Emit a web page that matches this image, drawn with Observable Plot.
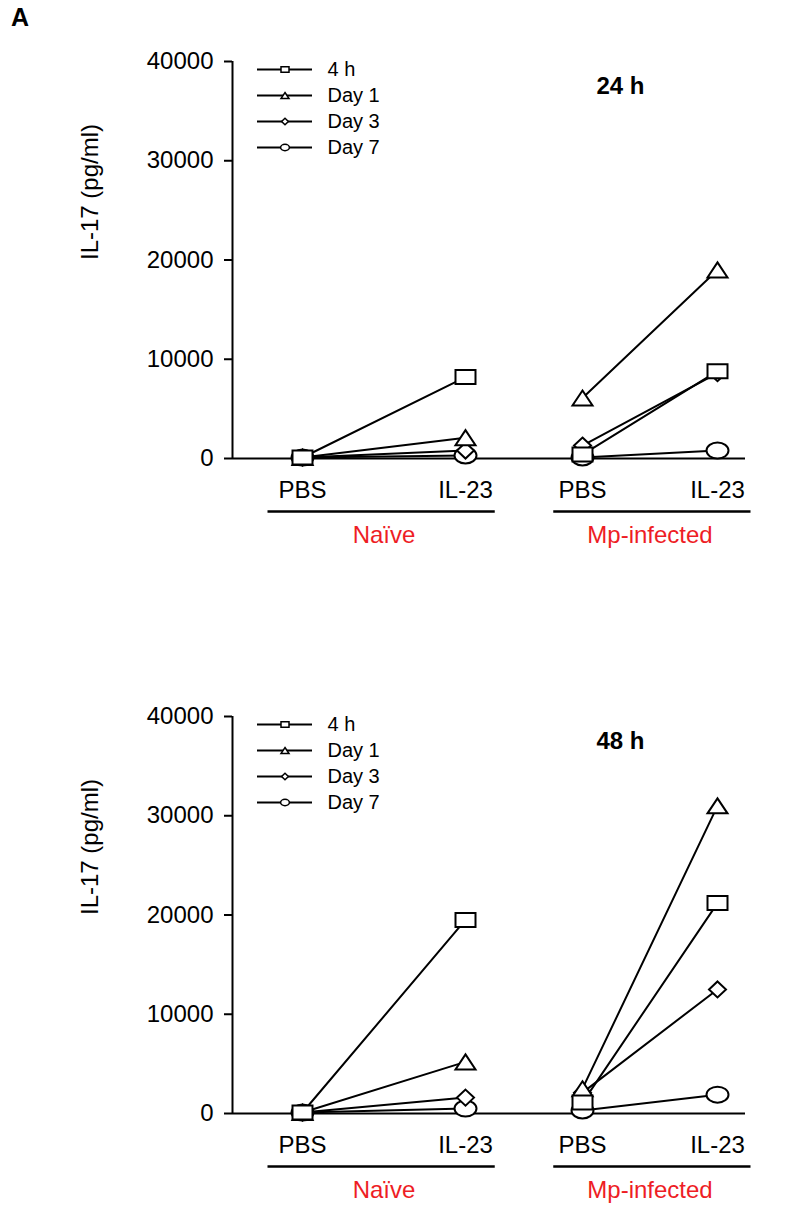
<!DOCTYPE html>
<html>
<head>
<meta charset="utf-8">
<script src="https://cdn.jsdelivr.net/npm/d3@7"></script>
<script src="https://cdn.jsdelivr.net/npm/@observablehq/plot@0.6"></script>
<style>
  html, body { margin: 0; padding: 0; background: #fff; }
  #root { position: relative; width: 800px; height: 1223px; font-family: "Liberation Sans", Arial, sans-serif; }
  .panel { position: relative; width: 800px; }
  .legend { position: absolute; left: 250px; top: 54px; }
  #letter { position: absolute; left: 11px; top: 3px; font-weight: bold; font-size: 25px; z-index: 2; }
</style>
</head>
<body>
<div id="root">
  <div id="letter">A</div>
</div>
<script>
// ---------- data ----------
const categories = ["PBS", "IL-23", "PBS", "IL-23"];
const groups = ["Naïve", "Mp-infected"];
const series = ["4 h", "Day 1", "Day 3", "Day 7"];
const yTicks = [0, 10000, 20000, 30000, 40000];
const panelTitles = ["24 h", "48 h"];
const yLabel = "IL-17 (pg/ml)";

// values per category (Naïve PBS, Naïve IL-23, Mp PBS, Mp IL-23)
const h24_4h   = [100, 8200, 400, 8800];
const h24_day1 = [100, 2100, 6100, 19000];
const h24_day3 = [100, 800, 1300, 8600];
const h24_day7 = [100, 300, 100, 800];

const h48_4h   = [100, 19500, 1100, 21200];
const h48_day1 = [100, 5200, 2500, 31000];
const h48_day3 = [100, 1600, 2100, 12500];
const h48_day7 = [100, 500, 300, 1900];

// ---------- helpers ----------
function makeSymbols(k) {
  const square = {draw(c) { c.rect(-10 * k, -7 * k, 20 * k, 14 * k); }};
  const triangle = {draw(c) { c.moveTo(0, -7.5 * k); c.lineTo(10 * k, 7.5 * k); c.lineTo(-10 * k, 7.5 * k); c.closePath(); }};
  const diamond = {draw(c) { c.moveTo(0, -8 * k); c.lineTo(8.5 * k, 0); c.lineTo(0, 8 * k); c.lineTo(-8.5 * k, 0); c.closePath(); }};
  const ellipse = {draw(c) {
    const rx = 11 * k, ry = 8 * k, q = 0.5523;
    c.moveTo(rx, 0);
    c.bezierCurveTo(rx, ry * q, rx * q, ry, 0, ry);
    c.bezierCurveTo(-rx * q, ry, -rx, ry * q, -rx, 0);
    c.bezierCurveTo(-rx, -ry * q, -rx * q, -ry, 0, -ry);
    c.bezierCurveTo(rx * q, -ry, rx, -ry * q, rx, 0);
    c.closePath();
  }};
  return {"4 h": square, "Day 1": triangle, "Day 3": diamond, "Day 7": ellipse};
}
const bigSymbols = makeSymbols(1);
const smallSymbols = makeSymbols(0.4);

const groupSpans = groups.map((g, gi) => ({name: g, from: gi * 2, to: gi * 2 + 1}));
const red = "#ee1d25";
const font = "Liberation Sans, Arial, sans-serif";

function buildRows(valueArrays) {
  const rows = [];
  series.forEach((s, si) => {
    valueArrays[si].forEach((v, i) => {
      rows.push({series: s, group: groups[Math.floor(i / 2)], idx: i, value: v});
    });
  });
  return rows;
}

function panel(valueArrays, title, height, marginBottom) {
  const rows = buildRows(valueArrays);
  const xDomain = [-0.5, 0, 1, 2, 3, 3.5];
  const drawOrder = ["Day 7", "Day 3", "Day 1", "4 h"];
  const marks = [
    Plot.ruleX([xDomain[0]], {strokeWidth: 2}),
    Plot.ruleY([0], {strokeWidth: 2}),
    Plot.axisY({ticks: yTicks, tickFormat: d => String(d), tickSize: 8, tickPadding: 11, fontSize: 24, strokeWidth: 2, label: null}),
    Plot.axisX({ticks: [0, 1, 2, 3], tickFormat: i => categories[i], tickSize: 0, tickPadding: 22, fontSize: 24, label: null}),
    Plot.text([yLabel], {frameAnchor: "left", rotate: -90, dx: -142, fontSize: 24}),
    Plot.text([title], {frameAnchor: "top-right", textAnchor: "middle", lineAnchor: "middle", dx: -125, dy: 25, fontSize: 24, fontWeight: "bold"}),
    Plot.link(groupSpans, {x1: d => d.from - 0.25, x2: d => d.to + 0.25, y1: () => 0, y2: () => 0, dy: 53, strokeWidth: 2.5}),
    Plot.text(groupSpans, {x: d => (d.from + d.to) / 2, y: () => 0, text: "name", dy: 77, fill: red, fontSize: 24}),
    Plot.line(rows, {x: "idx", y: "value", z: d => d.series + d.group, stroke: "black", strokeWidth: 2})
  ];
  drawOrder.forEach(s => {
    marks.push(Plot.dot(rows.filter(d => d.series === s), {x: "idx", y: "value", symbol: bigSymbols[s], r: 8, fill: "white", stroke: "black", strokeWidth: 2}));
  });
  return Plot.plot({
    width: 800,
    height,
    marginTop: 61,
    marginBottom,
    marginLeft: 232,
    marginRight: 55,
    style: {fontFamily: font, fontSize: "24px", background: "white", overflow: "visible"},
    x: {type: "linear", domain: xDomain, range: [232, 302, 465, 582, 717, 783]},
    y: {domain: [0, 40000]},
    marks
  });
}

function legend() {
  return Plot.plot({
    width: 200,
    height: 110,
    marginTop: 14,
    marginBottom: 16,
    marginLeft: 7,
    marginRight: 138,
    style: {fontFamily: font, fontSize: "20px", background: "transparent", overflow: "visible"},
    x: {domain: [0, 1], axis: null},
    y: {type: "point", domain: series, padding: 0, axis: null},
    marks: [
      Plot.ruleY(series, {y: d => d, x1: () => 0, x2: () => 1, strokeWidth: 2}),
      ...series.map(s => Plot.dot([s], {x: () => 0.5, y: d => d, symbol: smallSymbols[s], r: 3, fill: "white", stroke: "black", strokeWidth: 1.5})),
      Plot.text(series, {x: () => 1, y: d => d, dx: 15, textAnchor: "start", fontSize: 20})
    ]
  });
}

const root = document.getElementById("root");
const configs = [
  {values: [h24_4h, h24_day1, h24_day3, h24_day7], title: panelTitles[0], height: 655, mb: 197},
  {values: [h48_4h, h48_day1, h48_day3, h48_day7], title: panelTitles[1], height: 568, mb: 110}
];
configs.forEach(cfg => {
  const div = document.createElement("div");
  div.className = "panel";
  div.style.height = cfg.height + "px";
  div.appendChild(panel(cfg.values, cfg.title, cfg.height, cfg.mb));
  const lg = document.createElement("div");
  lg.className = "legend";
  lg.appendChild(legend());
  div.appendChild(lg);
  root.appendChild(div);
});
</script>
</body>
</html>
